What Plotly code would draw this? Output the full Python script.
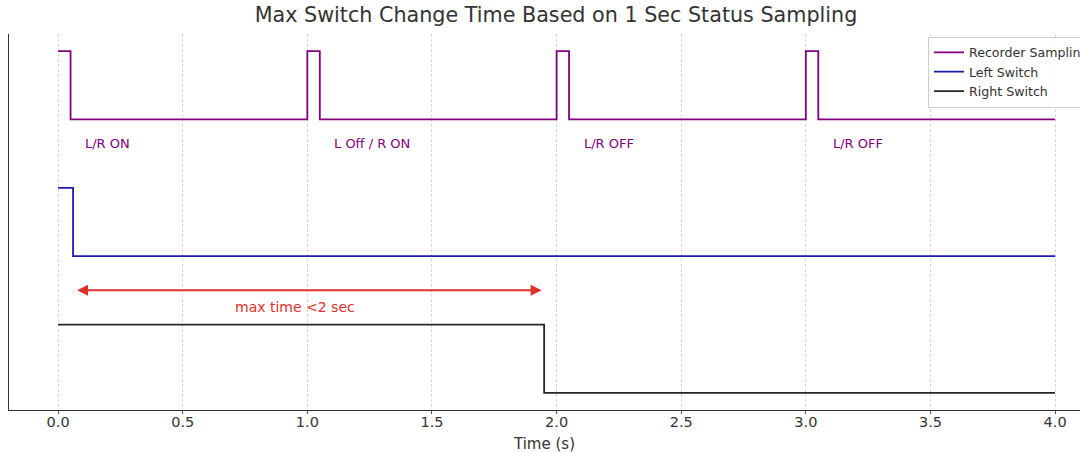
import plotly.graph_objects as go

# ---- data ----
recorder_t = [0.0, 0.05, 1.0, 1.05, 2.0, 2.05, 3.0, 3.05, 4.0]
recorder_v = [5, 4, 5, 4, 5, 4, 5, 4, 4]
left_t = [0.0, 0.06, 4.0]
left_v = [3, 2, 2]
right_t = [0.0, 1.95, 4.0]
right_v = [1, 0, 0]

label_x = [0.1, 1.1, 2.1, 3.1]
label_y = [3.65, 3.65, 3.65, 3.65]
label_text = ["L/R ON", "L Off / R ON", "L/R OFF", "L/R OFF"]

arrow_start = 0.07
arrow_end = 1.94
arrow_y = 1.5
arrow_label = "max time <2 sec"
arrow_label_x = 0.95
arrow_label_y = 1.26

tick_vals = [0.0, 0.5, 1.0, 1.5, 2.0, 2.5, 3.0, 3.5, 4.0]
tick_text = ["0.0", "0.5", "1.0", "1.5", "2.0", "2.5", "3.0", "3.5", "4.0"]

FONT = "DejaVu Sans"
PURPLE = "#800080"
BLUE = "#1c1cb0"
BLACK = "#262626"
RED = "#e0302a"

W, H = 1080, 453

fig = go.Figure()
fig.add_trace(go.Scatter(x=recorder_t, y=recorder_v, mode="lines", line_shape="hv",
                         line=dict(color=PURPLE, width=1.8), name="Recorder Sampling"))
fig.add_trace(go.Scatter(x=left_t, y=left_v, mode="lines", line_shape="hv",
                         line=dict(color=BLUE, width=1.8), name="Left Switch"))
fig.add_trace(go.Scatter(x=right_t, y=right_v, mode="lines", line_shape="hv",
                         line=dict(color=BLACK, width=1.8), name="Right Switch"))

for x, y, t in zip(label_x, label_y, label_text):
    fig.add_annotation(x=x, y=y, text=t, showarrow=False, xanchor="left", yanchor="middle",
                       font=dict(family=FONT, size=13, color=PURPLE))

fig.add_annotation(x=arrow_end, y=arrow_y, ax=arrow_start, ay=arrow_y,
                   xref="x", yref="y", axref="x", ayref="y", text="",
                   showarrow=True, arrowhead=2, startarrowhead=2, arrowside="end+start",
                   arrowsize=1.1, startarrowsize=1.1, arrowwidth=2, arrowcolor=RED)
fig.add_annotation(x=arrow_label_x, y=arrow_label_y, text=arrow_label, showarrow=False,
                   xanchor="center", yanchor="middle",
                   font=dict(family=FONT, size=14, color=RED))

fig.update_layout(
    width=W, height=H,
    margin=dict(l=9, r=0, t=34, b=43, autoexpand=False),
    paper_bgcolor="white", plot_bgcolor="white",
    font=dict(family=FONT, color="#333333"),
    title=dict(text="Max Switch Change Time Based on 1 Sec Status Sampling",
               x=556 / W, xanchor="center", y=1 - 8 / H, yanchor="top",
               font=dict(family=FONT, size=20.7, color="#333333")),
    legend=dict(x=(928 - 9) / 1071, y=0.993, xanchor="left", yanchor="top",
                bgcolor="rgba(255,255,255,0.9)", bordercolor="#cccccc", borderwidth=1,
                font=dict(family=FONT, size=12.6, color="#333333"),
                itemwidth=30, tracegroupgap=0),
    showlegend=True,
)
fig.update_xaxes(range=[-0.197, 4.1], tickvals=tick_vals, ticktext=tick_text,
                 showgrid=True, gridcolor="#d8d8d8", griddash="3px,2px", gridwidth=0.8,
                 showline=True, linecolor="#333333", linewidth=1.2,
                 ticks="outside", ticklen=3, tickcolor="#555555", ticklabelstandoff=-5,
                 tickfont=dict(family=FONT, size=14.5, color="#333333"),
                 title=dict(text="Time (s)", font=dict(family=FONT, size=15, color="#333333"), standoff=9),
                 zeroline=False, mirror=False)
fig.update_yaxes(range=[-0.25, 5.25], showticklabels=False, showgrid=False, zeroline=False,
                 showline=True, linecolor="#333333", linewidth=1.2, ticks="")

fig.write_html("out.html", config={"displayModeBar": False},
               post_script="document.body.style.margin='0';document.body.style.overflow='hidden';")
